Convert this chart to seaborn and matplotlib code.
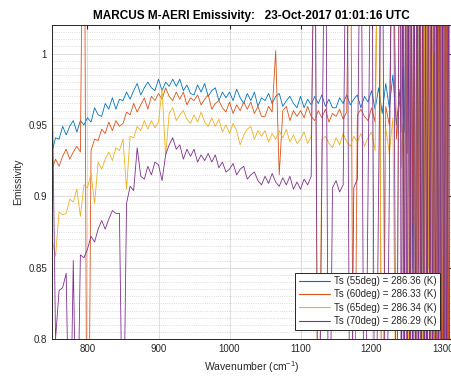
import numpy as np
import pandas as pd
import seaborn as sns
import matplotlib
matplotlib.use("Agg")
import matplotlib.pyplot as plt
from matplotlib.ticker import MultipleLocator, FuncFormatter
from matplotlib.lines import Line2D

# wavenumber grid (cm^-1): 5 cm^-1 steps, then 2 cm^-1 steps in the noisy band
wavenumber = list(range(750, 1240, 5)) + list(range(1240, 1312, 2))

# emissivity values in thousandths
ts55 = [931, 941, 940, 949, 943, 949, 953, 945, 953, 950,
        955, 952, 962, 957, 956, 965, 961, 969, 961, 968,
        967, 973, 968, 974, 979, 971, 976, 980, 976, 974,
        982, 974, 980, 977, 982, 977, 982, 974, 978, 972,
        971, 978, 973, 979, 970, 974, 976, 967, 973, 969,
        973, 967, 975, 969, 965, 972, 967, 973, 963, 969,
        967, 972, 965, 970, 972, 963, 967, 970, 965, 962,
        970, 962, 968, 964, 970, 965, 971, 963, 968, 962,
        962, 969, 965, 971, 964, 968, 971, 962, 970, 966,
        974, 961, 976, 958, 979, 962, 985, 950,
        975, 955, 990, 945, 1010, 930, 1100, 900, 1000, 850,
        1150, 700, 1050, 880, 1200, 650, 1000, 900, 1150, 700,
        1100, 800, 1200, 650, 1000, 750, 1150, 850, 1200, 700,
        1100, 650, 1000, 800, 1150, 700]
ts60 = [919, 926, 921, 928, 933, 926, 931, 935, 931, 1200,
        600, 932, 940, 939, 947, 944, 952, 946, 953, 949,
        951, 959, 957, 965, 959, 964, 969, 961, 970, 967,
        972, 968, 976, 970, 967, 973, 968, 973, 964, 969,
        967, 971, 964, 968, 971, 961, 965, 967, 962, 959,
        966, 958, 964, 960, 966, 961, 966, 958, 963, 956,
        956, 963, 959, 1002, 915, 960, 963, 953, 960, 956,
        960, 955, 963, 956, 953, 960, 955, 961, 952, 958,
        956, 961, 954, 959, 1150, 650, 957, 961, 956, 953,
        962, 952, 1150, 650, 963, 950, 1100, 940,
        970, 945, 1150, 700, 990, 930, 1200, 650, 1050, 880,
        1150, 700, 1000, 850, 1200, 650, 1100, 800, 1150, 700,
        1050, 650, 1200, 900, 700, 1150, 650, 1100, 800, 1200,
        650, 1150, 750, 1100, 700, 1200]
ts65 = [870, 858, 889, 887, 888, 898, 896, 905, 886, 908,
        906, 916, 895, 924, 919, 926, 931, 925, 934, 932,
        940, 905, 942, 941, 949, 946, 953, 947, 953, 948,
        952, 975, 928, 958, 962, 953, 957, 960, 954, 951,
        957, 952, 959, 952, 949, 955, 949, 954, 945, 950,
        944, 951, 946, 936, 943, 947, 949, 940, 946, 942,
        946, 938, 944, 940, 946, 941, 947, 938, 943, 937,
        940, 945, 937, 942, 1100, 650, 940, 942, 937, 934,
        941, 936, 944, 938, 935, 942, 938, 944, 935, 941,
        945, 932, 1150, 650, 948, 930, 955, 700,
        1150, 920, 950, 650, 1100, 900, 700, 1200, 940, 650,
        1150, 800, 1050, 650, 1200, 900, 700, 1100, 650, 1150,
        850, 1200, 700, 1000, 650, 1150, 900, 700, 1200, 650,
        1100, 800, 1150, 700, 1000, 1200]
ts70 = [990, 800, 834, 836, 846, 700, 855, 700, 859, 857,
        863, 872, 868, 877, 883, 877, 884, 890, 888, 888,
        700, 895, 907, 904, 934, 914, 912, 921, 915, 924,
        922, 911, 929, 936, 941, 933, 936, 926, 933, 928,
        933, 924, 929, 925, 930, 924, 929, 920, 924, 917,
        919, 923, 915, 919, 921, 912, 915, 917, 911, 908,
        914, 909, 916, 910, 907, 913, 908, 914, 905, 910,
        905, 912, 908, 914, 1150, 650, 912, 1150, 650, 906,
        911, 903, 908, 1150, 650, 906, 912, 1150, 650, 902,
        1150, 650, 910, 1150, 650, 904, 1200, 650,
        1200, 650, 1150, 700, 1200, 650, 1100, 700, 1200, 650,
        1150, 700, 1200, 650, 1150, 700, 1200, 650, 1100, 700,
        1200, 650, 1150, 700, 1200, 650, 1150, 700, 1200, 650,
        1100, 700, 1200, 650, 1150, 700]

labels = ["Ts (55deg) = 286.36 (K)", "Ts (60deg) = 286.33 (K)",
          "Ts (65deg) = 286.34 (K)", "Ts (70deg) = 286.29 (K)"]
colors = ["#0072BD", "#D95319", "#EDB120", "#7E2F8E"]

frames = []
for lab, vals in zip(labels, [ts55, ts60, ts65, ts70]):
    frames.append(pd.DataFrame({"wn": wavenumber,
                                "emis": np.array(vals) / 1000.0,
                                "series": lab}))
df = pd.concat(frames, ignore_index=True)

sns.set_style("white")
plt.rcParams["font.family"] = ["Liberation Sans", "DejaVu Sans"]
plt.rcParams["mathtext.fontset"] = "custom"
plt.rcParams["mathtext.rm"] = "Liberation Sans"

fig = plt.figure(figsize=(4.52, 3.84), dpi=100)
ax = fig.add_axes([0.115, 0.117, 0.883, 0.818])

sns.lineplot(data=df, x="wn", y="emis", hue="series", palette=colors,
             linewidth=0.6, estimator=None, sort=False, ax=ax, legend=False)

ax.set_xlim(750, 1312)
ax.set_ylim(0.8, 1.02)
ax.xaxis.set_major_locator(MultipleLocator(100))
ax.yaxis.set_major_locator(MultipleLocator(0.05))
ax.yaxis.set_minor_locator(MultipleLocator(0.005))
ax.yaxis.set_major_formatter(FuncFormatter(lambda v, p: "%g" % round(v, 3)))
ax.grid(True, which="major", color="#dcdcdc", linewidth=0.7)
ax.grid(True, which="minor", axis="y", color="#d0d0d0", linestyle=":", linewidth=0.6)
ax.set_axisbelow(True)
ax.tick_params(axis="both", which="major", direction="in", length=3,
               labelsize=7, colors="#262626", top=True, right=True)
ax.tick_params(axis="y", which="minor", length=0)
for s in ax.spines.values():
    s.set_color("#262626")
    s.set_linewidth(0.7)

ax.set_xlabel("Wavenumber (cm$^{-1}$)", fontsize=7.5, color="#262626", labelpad=4)
ax.set_ylabel("Emissivity", fontsize=7.5, color="#262626", labelpad=4)
ax.set_title("MARCUS M-AERI Emissivity:   23-Oct-2017 01:01:16 UTC",
             fontsize=8.5, fontweight="bold", color="#000000", pad=4)

handles = [Line2D([0], [0], color=c, lw=0.8) for c in colors]
leg = ax.legend(handles, labels, loc="lower right", bbox_to_anchor=(0.972, 0.03),
                fontsize=7, frameon=True, fancybox=False, framealpha=1,
                edgecolor="#262626", borderpad=0.35, labelspacing=0.35,
                handlelength=3.2, handletextpad=0.4, borderaxespad=0)
leg.get_frame().set_linewidth(0.7)

fig.savefig("out.png", dpi=100)
